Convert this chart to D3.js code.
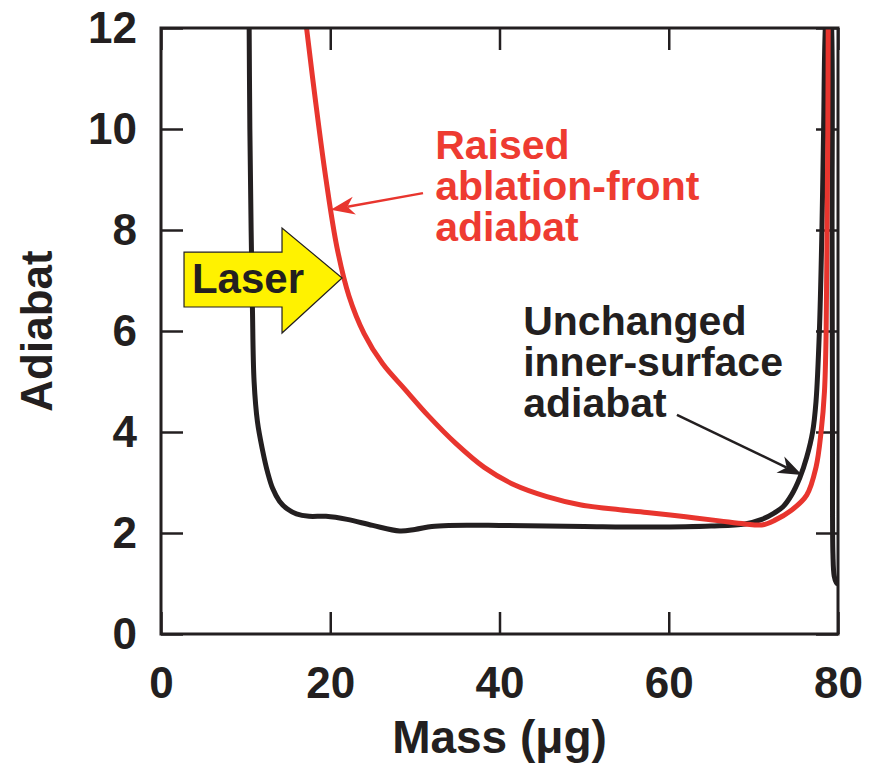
<!DOCTYPE html>
<html>
<head>
<meta charset="utf-8">
<script src="https://cdn.jsdelivr.net/npm/d3@7"></script>
<style>
  html, body { margin: 0; padding: 0; background: #fff; }
  svg { display: block; }
  text { font-family: "Liberation Sans", Arial, Helvetica, sans-serif; font-weight: bold; }
</style>
</head>
<body>
<script>
// ---- data ----
const massTicks = [0, 20, 40, 60, 80];
const adiabatTicks = [0, 2, 4, 6, 8, 10, 12];

// Unchanged inner-surface adiabat (black)
const innerMass = [10.4, 10.5, 10.65, 10.8, 11.0, 11.4, 12.0, 12.6, 13.2, 14.0, 14.9, 16.0, 17.5, 19.5, 22, 25, 28.2, 30, 32, 34, 40, 50, 58, 65, 69, 71, 72.5, 73.5, 74.5, 75.5, 76.3, 77, 77.4, 77.8, 78.1, 78.3, 78.5, 78.9, 79.25, 79.3, 79.35, 79.4, 79.55, 79.8, 80];
const innerAdiabat = [12.5, 10, 8, 6.5, 5.0, 4.2, 3.64, 3.2, 2.88, 2.63, 2.48, 2.38, 2.33, 2.33, 2.27, 2.15, 2.04, 2.07, 2.13, 2.15, 2.15, 2.13, 2.12, 2.14, 2.18, 2.27, 2.4, 2.52, 2.75, 3.1, 3.5, 4.0, 4.6, 6, 8, 10, 12, 13, 12, 8, 4, 1.6, 1.15, 1.02, 0.98];

// Raised ablation-front adiabat (red)
const ablMass = [17.0, 17.2, 18.3, 19.5, 20.8, 22.2, 24.0, 26.2, 28.8, 31.6, 34.8, 38.2, 41.8, 45.6, 49.5, 54.2, 57.7, 62, 66, 69, 71, 72.5, 74.5, 76.3, 77.4, 78.0, 78.4, 78.6, 78.7, 78.8, 78.85];
const ablAdiabat = [12.3, 12, 10.5, 9.0, 7.65, 6.7, 5.95, 5.35, 4.85, 4.32, 3.78, 3.3, 2.95, 2.72, 2.56, 2.46, 2.4, 2.32, 2.24, 2.18, 2.16, 2.25, 2.45, 2.75, 3.3, 4.0, 4.8, 6, 8, 10, 12.5];

const redLabel = ["Raised", "ablation-front", "adiabat"];
const blackLabel = ["Unchanged", "inner-surface", "adiabat"];

// ---- layout ----
const W = 869, H = 767;
const M = { left: 161, top: 28, right: 31, bottom: 133 };
const RED = "#e8352e", REDTXT = "#ee3b31", INK = "#231f20", YEL = "#fff200";

const svg = d3.select("body").append("svg").attr("width", W).attr("height", H);
const x = d3.scaleLinear().domain([0, 80]).range([M.left, W - M.right]);
const y = d3.scaleLinear().domain([0, 12]).range([H - M.bottom, M.top]);

svg.append("clipPath").attr("id", "plot")
  .append("rect").attr("x", x(0)).attr("y", y(12)).attr("width", x(80) - x(0)).attr("height", y(0) - y(12));

// axes (ticks inward on all sides)
const TK = 22;
const styleAxis = g => {
  g.select(".domain").remove();
  g.selectAll(".tick line").attr("stroke", INK).attr("stroke-width", 2.5);
  g.selectAll(".tick text").attr("fill", INK).style("font-size", "44px").style("font-family", '"Liberation Sans", Arial, sans-serif').style("font-weight", "bold");
};
svg.append("g").attr("transform", `translate(0,${y(0)})`)
  .call(d3.axisBottom(x).tickValues(massTicks).tickSizeInner(-TK).tickSizeOuter(0).tickPadding(33).tickFormat(d3.format("d")))
  .call(styleAxis);
svg.append("g").attr("transform", `translate(${x(0)},0)`)
  .call(d3.axisLeft(y).tickValues(adiabatTicks).tickSizeInner(-TK).tickSizeOuter(0).tickPadding(24).tickFormat(d3.format("d")))
  .call(styleAxis);
svg.append("g").attr("transform", `translate(0,${y(12)})`)
  .call(d3.axisTop(x).tickValues(massTicks).tickSizeInner(-TK).tickSizeOuter(0).tickFormat(""))
  .call(styleAxis);
svg.append("g").attr("transform", `translate(${x(80)},0)`)
  .call(d3.axisRight(y).tickValues(adiabatTicks).tickSizeInner(-TK).tickSizeOuter(0).tickFormat(""))
  .call(styleAxis);

// curves
const line = d3.line().x(d => x(d[0])).y(d => y(d[1])).curve(d3.curveCatmullRom.alpha(0.5));
const inner = innerMass.map((m, i) => [m, innerAdiabat[i]]);
const abl = ablMass.map((m, i) => [m, ablAdiabat[i]]);
const curves = svg.append("g").attr("clip-path", "url(#plot)");
curves.append("path").attr("d", line(inner)).attr("fill", "none").attr("stroke", INK).attr("stroke-width", 5).attr("stroke-linejoin", "round");
curves.append("path").attr("d", line(abl)).attr("fill", "none").attr("stroke", RED).attr("stroke-width", 5).attr("stroke-linejoin", "round");

// frame
svg.append("rect").attr("x", x(0)).attr("y", y(12)).attr("width", x(80) - x(0)).attr("height", y(0) - y(12))
  .attr("fill", "none").attr("stroke", INK).attr("stroke-width", 3);

// Laser arrow (data coordinates)
const L = { x0: 2.72, xb: 14.3, xt: 21.4, yTop: 7.56, yBot: 6.475, hTop: 8.04, hBot: 5.96, yTip: 7.05 };
const laserPts = [[L.x0, L.yTop], [L.xb, L.yTop], [L.xb, L.hTop], [L.xt, L.yTip], [L.xb, L.hBot], [L.xb, L.yBot], [L.x0, L.yBot]];
svg.append("polygon").attr("points", laserPts.map(p => [x(p[0]), y(p[1])].join(",")).join(" "))
  .attr("fill", YEL).attr("stroke", INK).attr("stroke-width", 1.2).attr("stroke-linejoin", "miter");
svg.append("text").attr("x", (x(L.x0) + x(L.xb)) / 2 + 15).attr("y", y(L.yBot) - 14)
  .attr("text-anchor", "middle").attr("fill", INK).style("font-size", "42px").text("Laser");

// annotation arrows
function arrow(from, to, color, width) {
  const [x1, y1] = [x(from[0]), y(from[1])], [x2, y2] = [x(to[0]), y(to[1])];
  const ang = Math.atan2(y2 - y1, x2 - x1);
  const len = 24, half = 9, notch = 17;
  const ux = Math.cos(ang), uy = Math.sin(ang), px = -uy, py = ux;
  svg.append("line").attr("x1", x1).attr("y1", y1).attr("x2", x2 - ux * notch).attr("y2", y2 - uy * notch)
    .attr("stroke", color).attr("stroke-width", width);
  const pts = [[x2, y2], [x2 - ux * len + px * half, y2 - uy * len + py * half], [x2 - ux * notch, y2 - uy * notch], [x2 - ux * len - px * half, y2 - uy * len - py * half]];
  svg.append("polygon").attr("points", pts.map(p => p.join(",")).join(" ")).attr("fill", color);
}
arrow([30.96, 8.73], [20.05, 8.40], RED, 2.5);
arrow([60.97, 4.34], [75.75, 3.15], INK, 2.5);

// annotation labels
const lab = (lines, mx, baseY, color) => {
  lines.forEach((s, i) => svg.append("text").attr("fill", color).style("font-size", "41px")
    .attr("x", x(mx)).attr("y", baseY + i * 41).text(s));
};
lab(redLabel, 32.4, 159, REDTXT);
lab(blackLabel, 42.8, 335, INK);

// axis titles
svg.append("text").attr("x", (x(0) + x(80)) / 2).attr("y", 753).attr("text-anchor", "middle")
  .attr("fill", INK).style("font-size", "46px").text("Mass (μg)");
svg.append("text").attr("transform", `translate(52,${(y(0) + y(12)) / 2}) rotate(-90)`).attr("text-anchor", "middle")
  .attr("fill", INK).style("font-size", "44px").text("Adiabat");
</script>
</body>
</html>
